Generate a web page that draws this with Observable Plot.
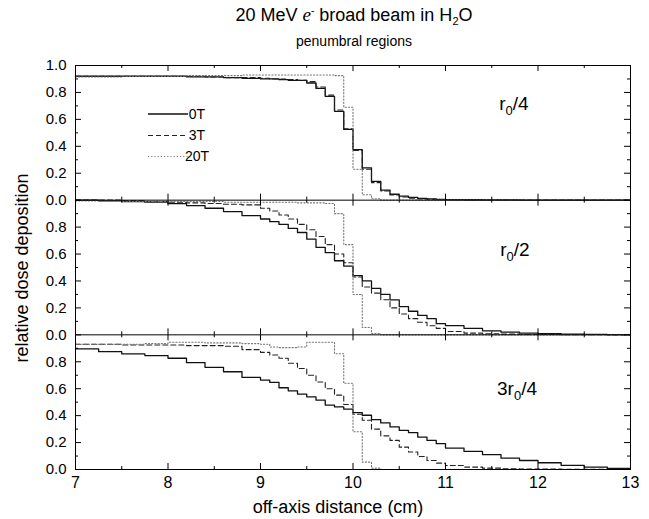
<!DOCTYPE html>
<html><head><meta charset="utf-8">
<script src="https://cdn.jsdelivr.net/npm/d3@7"></script>
<script src="https://cdn.jsdelivr.net/npm/@observablehq/plot@0.6"></script>
<style>body{margin:0;background:#fff;}</style>
</head><body><div id="chart"></div>
<script>
// ---- data (bin edges in cm, relative dose per bin) ----
const edges = [7, 7.25, 7.5, 7.75, 8, 8.2, 8.4, 8.6, 8.8, 9, 9.1, 9.2, 9.3, 9.4, 9.5, 9.6, 9.7, 9.8, 9.9,
  10, 10.1, 10.2, 10.3, 10.4, 10.5, 10.6, 10.7, 10.8, 10.9, 11, 11.2, 11.4, 11.6, 11.8, 12, 12.25, 12.5, 12.75, 13];

// panel r0/4
const q1_0T = [0.92, 0.92, 0.92, 0.92, 0.92, 0.915, 0.915, 0.91, 0.905,
  0.90, 0.90, 0.895, 0.89, 0.89, 0.87, 0.83, 0.77, 0.66, 0.525,
  0.375, 0.24, 0.14, 0.075, 0.044, 0.03, 0.02, 0.013, 0.009, 0.006,
  0.004, 0.003, 0.002, 0.002, 0.001, 0.001, 0.001, 0.001, 0.001];
const q1_3T = [0.92, 0.92, 0.92, 0.92, 0.92, 0.92, 0.915, 0.91, 0.91,
  0.905, 0.90, 0.90, 0.895, 0.89, 0.88, 0.84, 0.78, 0.67, 0.53,
  0.37, 0.23, 0.13, 0.068, 0.038, 0.024, 0.015, 0.009, 0.006, 0.004,
  0.003, 0.002, 0.001, 0.001, 0.001, 0.001, 0, 0, 0];
const q1_20T = [0.915, 0.915, 0.92, 0.92, 0.92, 0.925, 0.925, 0.925, 0.93,
  0.93, 0.93, 0.93, 0.93, 0.93, 0.93, 0.93, 0.93, 0.925, 0.69,
  0.23, 0.04, 0.01, 0, 0, 0, 0, 0, 0, 0,
  0, 0, 0, 0, 0, 0, 0, 0, 0];

// panel r0/2
const q2_0T = [1.0, 0.995, 0.99, 0.985, 0.975, 0.96, 0.94, 0.915, 0.885,
  0.86, 0.84, 0.82, 0.79, 0.76, 0.71, 0.65, 0.61, 0.55, 0.51,
  0.44, 0.40, 0.345, 0.30, 0.26, 0.21, 0.175, 0.144, 0.12, 0.083,
  0.068, 0.048, 0.03, 0.02, 0.013, 0.008, 0.005, 0.003, 0.002];
const q2_3T = [1.0, 1.0, 0.995, 0.99, 0.985, 0.98, 0.975, 0.97, 0.965,
  0.94, 0.92, 0.89, 0.86, 0.82, 0.78, 0.73, 0.67, 0.60, 0.535,
  0.43, 0.355, 0.31, 0.26, 0.20, 0.155, 0.12, 0.093, 0.068, 0.048,
  0.025, 0.013, 0.008, 0.005, 0.003, 0.002, 0.001, 0.001, 0];
const q2_20T = [0.995, 0.995, 0.99, 0.99, 0.99, 0.99, 0.99, 0.985, 0.985,
  0.985, 0.985, 0.985, 0.985, 0.98, 0.98, 0.98, 0.975, 0.90, 0.67,
  0.30, 0.055, 0.01, 0, 0, 0, 0, 0, 0, 0,
  0, 0, 0, 0, 0, 0, 0, 0, 0];

// panel 3r0/4
const q3_0T = [0.896, 0.875, 0.858, 0.846, 0.826, 0.793, 0.759, 0.726, 0.684,
  0.664, 0.647, 0.607, 0.584, 0.56, 0.54, 0.515, 0.478, 0.465, 0.448,
  0.423, 0.403, 0.371, 0.346, 0.316, 0.291, 0.274, 0.241, 0.216, 0.192,
  0.159, 0.134, 0.11, 0.084, 0.067, 0.05, 0.03, 0.017, 0.008];
const q3_3T = [0.93, 0.93, 0.925, 0.925, 0.925, 0.92, 0.92, 0.915, 0.89,
  0.87, 0.85, 0.826, 0.789, 0.75, 0.70, 0.65, 0.60, 0.552, 0.483,
  0.41, 0.366, 0.30, 0.25, 0.216, 0.166, 0.13, 0.097, 0.067, 0.047,
  0.03, 0.018, 0.01, 0.006, 0.004, 0.003, 0.002, 0.001, 0.001];
const q3_20T = [0.93, 0.93, 0.93, 0.935, 0.945, 0.945, 0.94, 0.94, 0.935,
  0.93, 0.91, 0.905, 0.905, 0.91, 0.945, 0.945, 0.945, 0.86, 0.64,
  0.28, 0.055, 0.01, 0, 0, 0, 0, 0, 0, 0,
  0, 0, 0, 0, 0, 0, 0, 0, 0];

const seriesNames = ["0T", "3T", "20T"];
const panelLabels = [["r", "0", "/4"], ["r", "0", "/2"], ["3r", "0", "/4"]];
const panelOffsets = [2, 1, 0];
const xTicks = [7, 8, 9, 10, 11, 12, 13];
const xMinorTicks = [7.5, 8.5, 9.5, 10.5, 11.5, 12.5];
const yMajorTicks = [0, 0.2, 0.4, 0.6, 0.8];
const yMinorTicks = [0.1, 0.3, 0.5, 0.7, 0.9];

// ---- build table ----
const seriesData = {
  "0T": [q1_0T, q2_0T, q3_0T],
  "3T": [q1_3T, q2_3T, q3_3T],
  "20T": [q1_20T, q2_20T, q3_20T]
};
const rows = [];
for (const s of seriesNames) {
  seriesData[s].forEach((vals, p) => {
    vals.forEach((v, i) => rows.push({series: s, panel: p, x: edges[i], v, off: panelOffsets[p]}));
    rows.push({series: s, panel: p, x: edges[edges.length - 1], v: vals[vals.length - 1], off: panelOffsets[p]});
  });
}

const W = 649, H = 519, ML = 75, MR = 19, MT = 65, MB = 50;
const pxX = (W - ML - MR) / 6, pxY = (H - MT - MB) / 3;
const majLen = 6, minLen = 3;

const yLabelTicks = [];
const yMajAll = [], yMinAll = [];
for (const off of panelOffsets) {
  yMajorTicks.forEach(t => { yLabelTicks.push(off + t); yMajAll.push(off + t); });
  yMinorTicks.forEach(t => yMinAll.push(off + t));
}
yLabelTicks.push(3); yMajAll.push(3);
const fmtY = d => d > 2.999 ? "1.0" : Math.abs(d - Math.round(d)) < 1e-9 ? "0.0" : (d - Math.floor(d)).toFixed(1);

const xTickRows = [];
for (const b of [0, 1, 2, 3]) {
  for (const [list, len] of [[xTicks, majLen], [xMinorTicks, minLen]]) {
    for (const x of list) {
      if (b < 3) xTickRows.push({x, y1: b, y2: b + len / pxY});
      if (b > 0) xTickRows.push({x, y1: b - len / pxY, y2: b});
    }
  }
}

const styles = {
  "0T": {stroke: "#111", strokeWidth: 1.3},
  "3T": {stroke: "#222", strokeWidth: 1.1, strokeDasharray: "5,3"},
  "20T": {stroke: "#777", strokeWidth: 1.1, strokeDasharray: "1.2,2"}
};

const chart = Plot.plot({
  width: W, height: H,
  marginLeft: ML, marginRight: MR, marginTop: MT, marginBottom: MB,
  style: {fontFamily: "'Liberation Sans', Arial, sans-serif", fontSize: "14px", background: "white", color: "black"},
  x: {domain: [7, 13], axis: null},
  y: {domain: [0, 3], axis: null},
  marks: [
    ...seriesNames.map(s => Plot.line(rows.filter(r => r.series === s), {
      x: "x", y: d => d.v + d.off, z: "panel", curve: "step-after", ...styles[s]
    })),
    Plot.ruleY([1, 2], {stroke: "black", strokeWidth: 1}),
    Plot.frame({stroke: "black", strokeWidth: 1}),
    Plot.ruleY(yMajAll, {y: d => d, x1: () => 7, x2: () => 7 + majLen / pxX, stroke: "black"}),
    Plot.ruleY(yMinAll, {y: d => d, x1: () => 7, x2: () => 7 + minLen / pxX, stroke: "black"}),
    Plot.ruleY(yMajAll, {y: d => d, x1: () => 13 - majLen / pxX, x2: () => 13, stroke: "black"}),
    Plot.ruleY(yMinAll, {y: d => d, x1: () => 13 - minLen / pxX, x2: () => 13, stroke: "black"}),
    Plot.ruleX(xTickRows, {x: "x", y1: "y1", y2: "y2", stroke: "black"}),
    Plot.axisX(xTicks, {tickSize: 0, tickPadding: 7, fontSize: 16, label: null, tickFormat: d => String(d)}),
    Plot.axisY(yLabelTicks, {tickSize: 0, tickPadding: 9, fontSize: 15, label: null, tickFormat: fmtY})
  ]
});

document.getElementById("chart").appendChild(chart);
const svg = d3.select(chart);
const ff = "'Liberation Sans', Arial, sans-serif";

// title
const t = svg.append("text").attr("x", 354).attr("y", 21).attr("text-anchor", "middle")
  .attr("font-family", ff).attr("font-size", 18).attr("fill", "black");
t.append("tspan").text("20 MeV ");
t.append("tspan").attr("font-family", "'Liberation Serif', 'DejaVu Serif', serif").attr("font-style", "italic").attr("font-size", 19).text("e");
t.append("tspan").attr("font-size", 10).attr("dy", -7).text("-");
t.append("tspan").attr("dy", 7).text(" broad beam in H");
t.append("tspan").attr("font-size", 11).attr("dy", 4).text("2");
t.append("tspan").attr("dy", -4).text("O");
svg.append("text").attr("x", 354).attr("y", 46).attr("text-anchor", "middle")
  .attr("font-family", ff).attr("font-size", 14).attr("fill", "black").text("penumbral regions");

// axis titles
svg.append("text").attr("x", 338).attr("y", 513).attr("text-anchor", "middle")
  .attr("font-family", ff).attr("font-size", 18).attr("fill", "black").text("off-axis distance (cm)");
svg.append("text").attr("transform", "translate(28,268) rotate(-90)").attr("text-anchor", "middle")
  .attr("font-family", ff).attr("font-size", 18).attr("fill", "black").text("relative dose deposition");

// panel labels
const labelPos = [[514, 110], [515, 256], [517, 395]];
panelLabels.forEach((parts, i) => {
  const tx = svg.append("text").attr("x", labelPos[i][0]).attr("y", labelPos[i][1])
    .attr("font-family", ff).attr("font-size", 19).attr("fill", "black");
  tx.append("tspan").text(parts[0]);
  tx.append("tspan").attr("font-size", 13).attr("dy", 5).text(parts[1]);
  tx.append("tspan").attr("dy", -5).text(parts[2]);
});

// legend
const lg = svg.append("g");
const legY = [114, 135.5, 156.5];
seriesNames.forEach((s, i) => {
  const st = styles[s];
  lg.append("line").attr("x1", 148).attr("x2", 188).attr("y1", legY[i]).attr("y2", legY[i])
    .attr("stroke", st.stroke).attr("stroke-width", st.strokeWidth)
    .attr("stroke-dasharray", st.strokeDasharray || null);
  lg.append("text").attr("x", 197).attr("y", legY[i]).attr("dy", "0.35em")
    .attr("font-family", ff).attr("font-size", 14).attr("fill", "black").text(s);
});
</script>
</body></html>
